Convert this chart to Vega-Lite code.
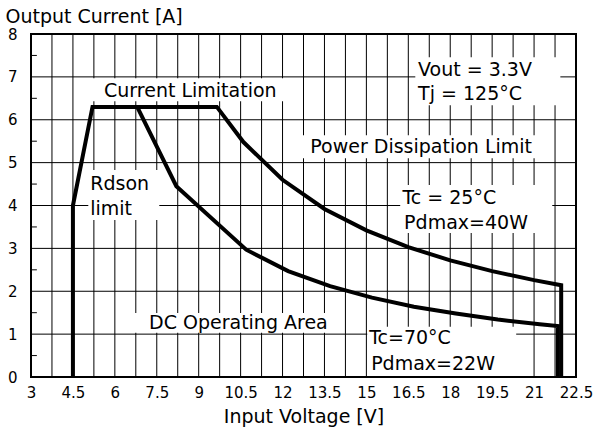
{
  "$schema": "https://vega.github.io/schema/vega-lite/v6.json",
  "width": 545,
  "height": 343,
  "autosize": "none",
  "padding": {"left": 31, "top": 34, "right": 17, "bottom": 53},
  "background": "white",
  "config": {"view": {"stroke": null}, "font": "DejaVu Sans"},
  "datasets": {
    "vgrid": [
      {"v": 3.75, "a": 0, "a2": 8}, {"v": 4.5, "a": 0, "a2": 8}, {"v": 5.25, "a": 0, "a2": 8}, {"v": 6, "a": 0, "a2": 8},
      {"v": 6.75, "a": 0, "a2": 8}, {"v": 7.5, "a": 0, "a2": 8}, {"v": 8.25, "a": 0, "a2": 8}, {"v": 9, "a": 0, "a2": 8},
      {"v": 9.75, "a": 0, "a2": 8}, {"v": 10.5, "a": 0, "a2": 8}, {"v": 11.25, "a": 0, "a2": 8}, {"v": 12, "a": 0, "a2": 8},
      {"v": 12.75, "a": 0, "a2": 8}, {"v": 13.5, "a": 0, "a2": 8}, {"v": 14.25, "a": 0, "a2": 8}, {"v": 15, "a": 0, "a2": 8},
      {"v": 15.75, "a": 0, "a2": 8}, {"v": 16.5, "a": 0, "a2": 8}, {"v": 17.25, "a": 0, "a2": 8}, {"v": 18, "a": 0, "a2": 8},
      {"v": 18.75, "a": 0, "a2": 8}, {"v": 19.5, "a": 0, "a2": 8}, {"v": 20.25, "a": 0, "a2": 8}, {"v": 21, "a": 0, "a2": 8},
      {"v": 21.75, "a": 0, "a2": 8}
    ],
    "hgrid": [
      {"a": 1, "v": 3, "v2": 22.5}, {"a": 2, "v": 3, "v2": 22.5}, {"a": 3, "v": 3, "v2": 22.5}, {"a": 4, "v": 3, "v2": 22.5},
      {"a": 5, "v": 3, "v2": 22.5}, {"a": 6, "v": 3, "v2": 22.5}, {"a": 7, "v": 3, "v2": 22.5}
    ],
    "yticks": [
      {"a": 0.5, "v": 3, "v2": 3.21}, {"a": 1.5, "v": 3, "v2": 3.21}, {"a": 2.5, "v": 3, "v2": 3.21}, {"a": 3.5, "v": 3, "v2": 3.21},
      {"a": 4.5, "v": 3, "v2": 3.21}, {"a": 5.5, "v": 3, "v2": 3.21}, {"a": 6.5, "v": 3, "v2": 3.21}, {"a": 7.5, "v": 3, "v2": 3.21}
    ],
    "curves": [
      {"curve": "Tc25", "i": 0, "v": 4.5, "a": 0},
      {"curve": "Tc25", "i": 1, "v": 4.5, "a": 4.0},
      {"curve": "Tc25", "i": 2, "v": 5.2, "a": 6.3},
      {"curve": "Tc25", "i": 3, "v": 9.65, "a": 6.3},
      {"curve": "Tc25", "i": 4, "v": 10.6, "a": 5.48},
      {"curve": "Tc25", "i": 5, "v": 12.0, "a": 4.6},
      {"curve": "Tc25", "i": 6, "v": 13.5, "a": 3.92},
      {"curve": "Tc25", "i": 7, "v": 15.0, "a": 3.42},
      {"curve": "Tc25", "i": 8, "v": 16.5, "a": 3.03},
      {"curve": "Tc25", "i": 9, "v": 18.0, "a": 2.72},
      {"curve": "Tc25", "i": 10, "v": 19.5, "a": 2.47},
      {"curve": "Tc25", "i": 11, "v": 21.0, "a": 2.26},
      {"curve": "Tc25", "i": 12, "v": 21.97, "a": 2.14},
      {"curve": "Tc25", "i": 13, "v": 21.97, "a": 0},
      {"curve": "Tc70", "i": 0, "v": 6.8, "a": 6.3},
      {"curve": "Tc70", "i": 1, "v": 8.2, "a": 4.45},
      {"curve": "Tc70", "i": 2, "v": 10.7, "a": 2.97},
      {"curve": "Tc70", "i": 3, "v": 12.2, "a": 2.47},
      {"curve": "Tc70", "i": 4, "v": 13.7, "a": 2.12},
      {"curve": "Tc70", "i": 5, "v": 15.2, "a": 1.85},
      {"curve": "Tc70", "i": 6, "v": 16.7, "a": 1.64},
      {"curve": "Tc70", "i": 7, "v": 18.2, "a": 1.48},
      {"curve": "Tc70", "i": 8, "v": 19.7, "a": 1.34},
      {"curve": "Tc70", "i": 9, "v": 21.2, "a": 1.23},
      {"curve": "Tc70", "i": 10, "v": 21.85, "a": 1.19},
      {"curve": "Tc70", "i": 11, "v": 21.85, "a": 0}
    ],
    "boxes": [
      {"v": 5.05, "v2": 12.28, "a": 6.43, "a2": 6.97},
      {"v": 16.75, "v2": 21.94, "a": 6.34, "a2": 7.46},
      {"v": 12.38, "v2": 21.65, "a": 5.10, "a2": 5.64},
      {"v": 5.05, "v2": 7.59, "a": 3.66, "a2": 4.83},
      {"v": 16.21, "v2": 21.65, "a": 3.36, "a2": 4.48},
      {"v": 6.6, "v2": 14.2, "a": 1.03, "a2": 1.49},
      {"v": 15.03, "v2": 20.36, "a": 0, "a2": 1.17}
    ],
    "labelsCenter": [
      {"t": "Current Limitation", "v": 8.70, "a": 6.53},
      {"t": "Power Dissipation Limit", "v": 16.96, "a": 5.22},
      {"t": "DC Operating Area", "v": 10.42, "a": 1.12}
    ],
    "labelsLeft": [
      {"t": "Vout = 3.3V", "v": 16.85, "a": 7.02},
      {"t": "Tj = 125°C", "v": 16.85, "a": 6.46},
      {"t": "Rdson", "v": 5.12, "a": 4.36},
      {"t": "limit", "v": 5.12, "a": 3.78},
      {"t": "Tc = 25°C", "v": 16.29, "a": 4.03},
      {"t": "Pdmax=40W", "v": 16.35, "a": 3.45},
      {"t": "Tc=70°C", "v": 15.1, "a": 0.76},
      {"t": "Pdmax=22W", "v": 15.17, "a": 0.16}
    ],
    "frame": [
      {"v": 3, "v2": 22.5, "a": 0, "a2": 8}
    ]
  },
  "encoding": {
    "x": {
      "field": "v",
      "type": "quantitative",
      "scale": {"domain": [3, 22.5], "nice": false, "zero": false},
      "axis": {
        "title": "Input Voltage [V]",
        "values": [3, 4.5, 6, 7.5, 9, 10.5, 12, 13.5, 15, 16.5, 18, 19.5, 21, 22.5],
        "labelExpr": "'' + datum.value",
        "grid": false,
        "ticks": false,
        "domain": false,
        "labelFont": "DejaVu Sans",
        "labelFontSize": 15,
        "labelColor": "black",
        "labelPadding": 8,
        "labelFlush": false,
        "labelOverlap": false,
        "titleFont": "DejaVu Sans",
        "titleFontSize": 19,
        "titleFontWeight": "normal",
        "titleColor": "black",
        "titleBaseline": "alphabetic",
        "titleY": 45
      }
    },
    "y": {
      "field": "a",
      "type": "quantitative",
      "scale": {"domain": [0, 8], "nice": false, "zero": true},
      "axis": {
        "title": "Output Current [A]",
        "values": [0, 1, 2, 3, 4, 5, 6, 7, 8],
        "labelExpr": "'' + datum.value",
        "grid": false,
        "ticks": false,
        "domain": false,
        "labelFont": "DejaVu Sans",
        "labelFontSize": 15,
        "labelColor": "black",
        "labelPadding": 14,
        "labelFlush": false,
        "labelOverlap": false,
        "titleFont": "DejaVu Sans",
        "titleFontSize": 19,
        "titleFontWeight": "normal",
        "titleColor": "black",
        "titleAngle": 0,
        "titleAlign": "left",
        "titleBaseline": "alphabetic",
        "titleX": -26,
        "titleY": -12
      }
    }
  },
  "layer": [
    {
      "data": {"name": "vgrid"},
      "mark": {"type": "rule", "color": "black", "strokeWidth": 1},
      "encoding": {"y2": {"field": "a2"}}
    },
    {
      "data": {"name": "hgrid"},
      "mark": {"type": "rule", "color": "black", "strokeWidth": 1},
      "encoding": {"x2": {"field": "v2"}}
    },
    {
      "data": {"name": "yticks"},
      "mark": {"type": "rule", "color": "black", "strokeWidth": 1},
      "encoding": {"x2": {"field": "v2"}}
    },
    {
      "data": {"name": "boxes"},
      "mark": {"type": "rect", "fill": "white", "strokeWidth": 0},
      "encoding": {"x2": {"field": "v2"}, "y2": {"field": "a2"}}
    },
    {
      "data": {"name": "curves"},
      "mark": {"type": "line", "color": "black", "strokeWidth": 4, "strokeJoin": "miter", "strokeCap": "butt"},
      "encoding": {"detail": {"field": "curve"}, "order": {"field": "i", "type": "quantitative"}}
    },
    {
      "data": {"name": "labelsCenter"},
      "mark": {"type": "text", "align": "center", "baseline": "alphabetic", "fontSize": 19, "font": "DejaVu Sans", "color": "black"},
      "encoding": {"text": {"field": "t"}}
    },
    {
      "data": {"name": "labelsLeft"},
      "mark": {"type": "text", "align": "left", "baseline": "alphabetic", "fontSize": 19, "font": "DejaVu Sans", "color": "black"},
      "encoding": {"text": {"field": "t"}}
    },
    {
      "data": {"name": "frame"},
      "mark": {"type": "rect", "fill": null, "stroke": "black", "strokeWidth": 2},
      "encoding": {"x2": {"field": "v2"}, "y2": {"field": "a2"}}
    }
  ]
}
